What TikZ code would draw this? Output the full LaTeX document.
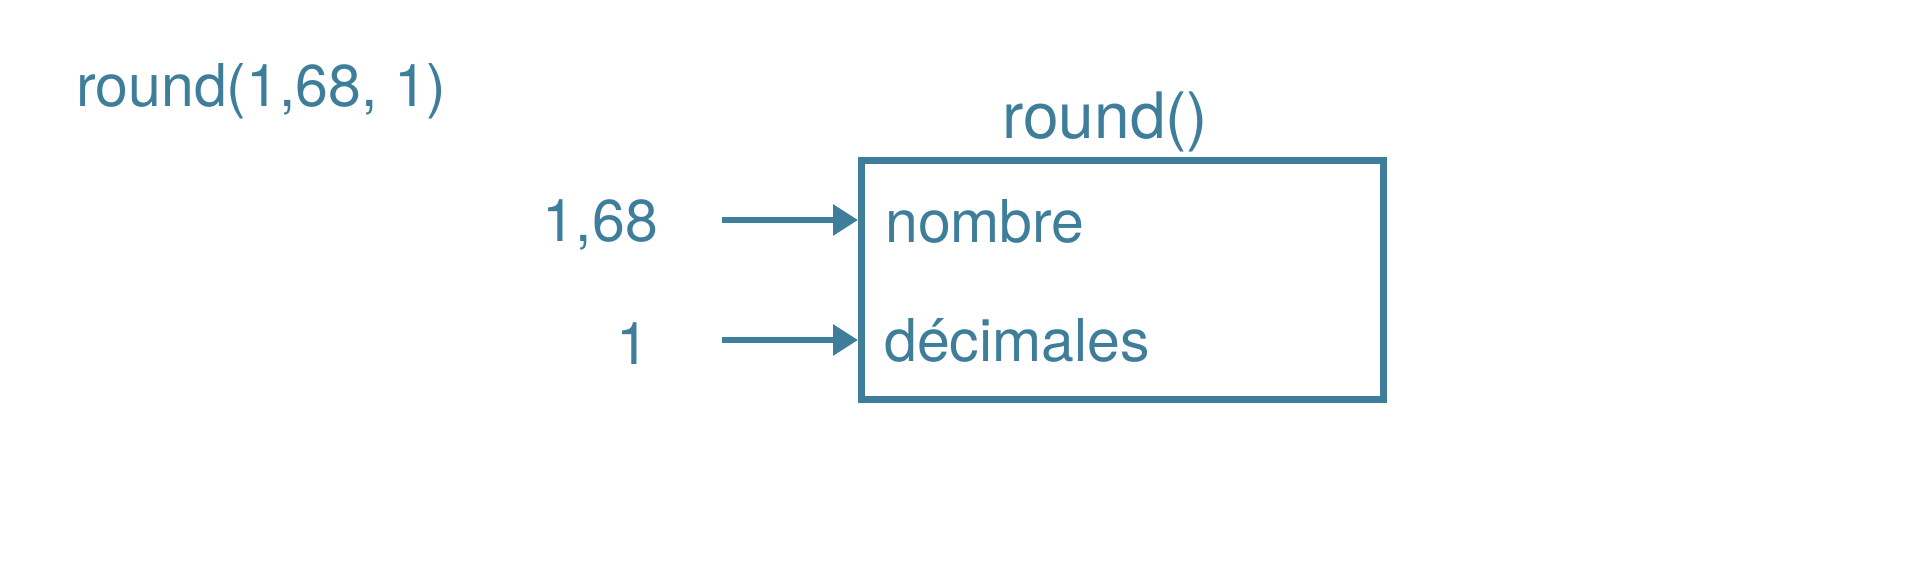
\documentclass[tikz,border=0pt]{standalone}
\usepackage{fontspec}
\setmainfont{TeX Gyre Heros}
\usetikzlibrary{arrows.meta}
\definecolor{fg}{RGB}{63,126,155}
\begin{document}
\begin{tikzpicture}[x=1pt,y=1pt,
  txt/.style={text=fg,inner sep=0pt,font=\fontsize{59}{70}\selectfont},
  ttl/.style={text=fg,inner sep=0pt,font=\fontsize{64}{76}\selectfont},
  fbox/.style={draw=fg,line width=7pt,inner sep=0pt,minimum width=522pt,minimum height=239pt},
  arr/.style={draw=fg,line width=6pt,-{Triangle[length=25pt,width=30pt]}}]
\fill[white] (0,0) rectangle (1920,-560);
\useasboundingbox (0,0) rectangle (1920,-560);
\node[txt,anchor=base west] (call) at (76,-106) {round(1,68, 1)};
\node[fbox] (box) at (1122.5,-280) {};
\node[ttl,anchor=base west] (title) at (1002,-138) {round()};
\node[txt,anchor=base west] (p1) at (885,-242) {nombre};
\node[txt,anchor=base west] (p2) at (884,-361) {décimales};
\node[txt,anchor=base east] (v1) at (658,-241) {1,68};
\node[txt,anchor=base east] (v2) at (649,-364) {1};
\coordinate (s1) at (722,-220);
\coordinate (s2) at (722,-340);
\draw[arr] (s1) -- (s1 -| box.west);
\draw[arr] (s2) -- (s2 -| box.west);
\end{tikzpicture}
\end{document}
